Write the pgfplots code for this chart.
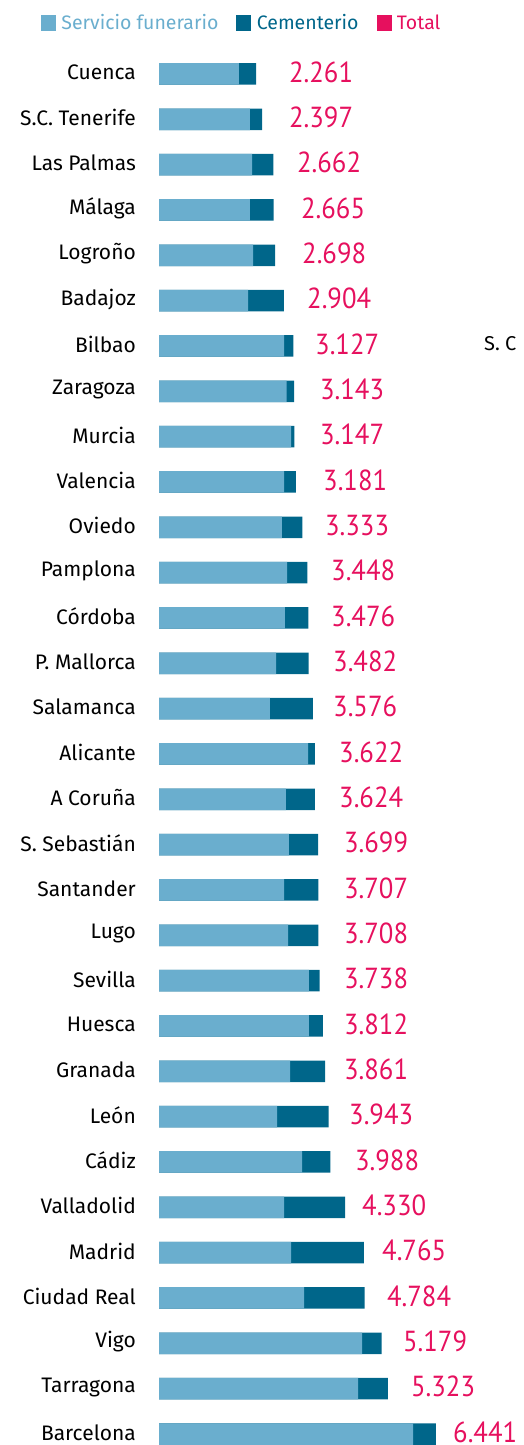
\documentclass[border=0pt]{standalone}
\usepackage{pgfplots}
\pgfplotsset{compat=1.18}
\usepackage{pgfplotstable}
\usepackage{fontspec}
\setmainfont{Fira Sans}
\newfontfamily\numfont[FakeStretch=0.92]{PT Sans}
\definecolor{lb}{HTML}{6AAECE}
\definecolor{db}{HTML}{00668A}
\definecolor{pk}{HTML}{E6105E}
\pgfplotstableread{
idx serv total lx lab
0 1860 2261 3023 2.261
1 2116 2397 3023 2.397
2 2163 2662 3209 2.662
3 2116 2665 3302 2.665
4 2186 2698 3326 2.698
5 2070 2904 3442 2.904
6 2907 3127 3628 3.127
7 2970 3143 3744 3.143
8 3070 3147 3744 3.147
9 2907 3181 3814 3.181
10 2860 3333 3860 3.333
11 2977 3448 4000 3.448
12 2930 3476 4000 3.476
13 2721 3482 4047 3.482
14 2581 3576 4047 3.576
15 3465 3622 4186 3.622
16 2953 3624 4186 3.624
17 3023 3699 4302 3.699
18 2907 3707 4302 3.707
19 3000 3708 4302 3.708
20 3488 3738 4302 3.738
21 3488 3812 4302 3.812
22 3047 3861 4302 3.861
23 2744 3943 4419 3.943
24 3326 3988 4558 3.988
25 2907 4330 4721 4.330
26 3070 4765 5186 4.765
27 3372 4784 5302 4.784
28 4721 5179 5674 5.179
29 4628 5323 5860 5.323
30 5907 6441 6837 6.441
}\data
\begin{document}
\begin{tikzpicture}
\useasboundingbox (0,0) rectangle (524pt,1445pt);
\begin{axis}[
  at={(159pt,0pt)}, anchor=south west,
  scale only axis, width=365pt, height=1445pt,
  xmin=0, xmax=8488, ymin=-1.632, ymax=30.243, y dir=reverse,
  clip=false,
  axis line style={draw=none}, tick style={draw=none}, major tick length=0pt,
  xtick=\empty,
  ytick={0,...,30},
  yticklabels={Cuenca, S.C. Tenerife, Las Palmas, Málaga, Logroño, Badajoz, Bilbao, Zaragoza, Murcia, Valencia, Oviedo, Pamplona, Córdoba, P. Mallorca, Salamanca, Alicante, A Coruña, S. Sebastián, Santander, Lugo, Sevilla, Huesca, Granada, León, Cádiz, Valladolid, Madrid, Ciudad Real, Vigo, Tarragona, Barcelona},
  yticklabel style={anchor=east, inner sep=0pt, xshift=-23pt, yshift=1.5pt, font=\fontsize{21}{24}\selectfont, text=black},
  legend style={at={(axis description cs:-0.3233,0.98408)}, anchor=west, draw=none, fill=none, inner sep=0pt, outer sep=0pt, legend columns=-1, font=\fontsize{19.5}{22}\selectfont, nodes={inner sep=0pt}, /tikz/every even column/.append style={column sep=18pt}, /tikz/every odd column/.append style={column sep=6pt}},
  legend cell align=left,
]
\addlegendimage{legend image code/.code={\fill[lb] (0pt,-7.5pt) rectangle (14pt,7.5pt);}}
\addlegendentry{\textcolor{lb}{Servicio funerario}}
\addlegendimage{legend image code/.code={\fill[db] (0pt,-7.5pt) rectangle (14pt,7.5pt);}}
\addlegendentry{\textcolor{db}{Cementerio}}
\addlegendimage{legend image code/.code={\fill[pk] (0pt,-7.5pt) rectangle (14pt,7.5pt);}}
\addlegendentry{\textcolor{pk}{Total}}
\addplot[xbar, bar width=21.5pt, bar shift=0pt, fill=db, draw=none, forget plot] table[x=total, y=idx] {\data};
\addplot[xbar, bar width=21.5pt, bar shift=0pt, fill=lb, draw=none, forget plot] table[x=serv, y=idx] {\data};
\addplot[draw=none, mark=none, forget plot, nodes near coords, point meta=explicit symbolic,
  nodes near coords style={anchor=west, inner sep=0pt, yshift=2pt, text=pk, font=\numfont\fontsize{29}{32}\selectfont}]
  table[x=lx, y=idx, meta=lab] {\data};
\end{axis}
\node[anchor=west, inner sep=0pt, font=\fontsize{20}{24}\selectfont] at (484pt,1101pt) {S. C};
\end{tikzpicture}
\end{document}
